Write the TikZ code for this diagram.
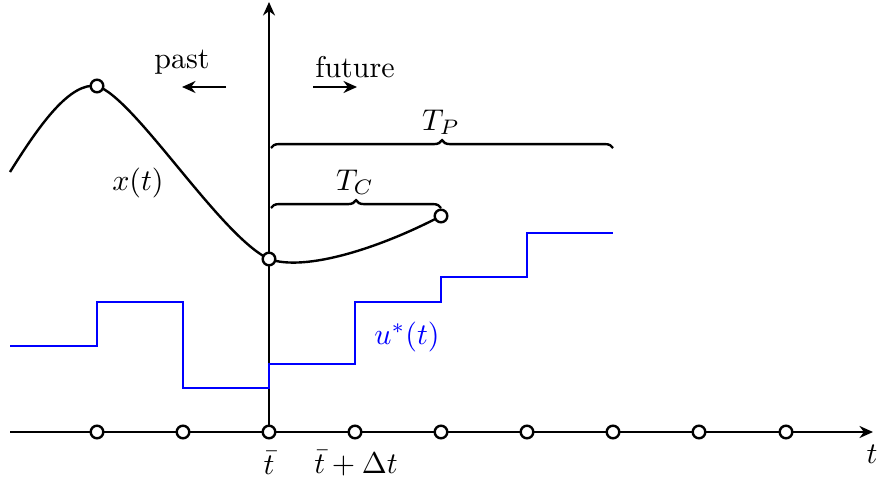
\documentclass[tikz,border=0pt]{standalone}
\usetikzlibrary{arrows.meta,decorations.pathreplacing}
\begin{document}
\begin{tikzpicture}[x=0.3333pt,y=-0.3333pt,
  dot/.style={circle,draw,thick,fill=white,inner sep=0pt,minimum size=4.2pt},
  axis/.style={thick,-{Stealth[length=4.5pt,width=4pt]}},
  small arrow/.style={thick,-{Stealth[length=4.5pt,width=4pt]}},
  brc/.style={thick,decorate,decoration={brace,amplitude=2.6pt}},
  ctrl/.style={thick,blue},
  ticklab/.style={inner sep=0.5pt}]
\useasboundingbox (0,0) rectangle (878,483);
% axes
\coordinate (hstart) at (10,432);
\coordinate (hend) at (873,432);
\coordinate (vstart) at (269,432);
\coordinate (vend) at (269,2);
\draw[axis] (hstart) -- (hend);
\draw[axis] (vstart) -- (vend);
% control signal
\draw[ctrl] (10,346) -- (97,346) -- (97,302) -- (183,302) -- (183,388) -- (269,388) -- (269,364) -- (355,364) -- (355,302) -- (441,302) -- (441,277) -- (527,277) -- (527,233) -- (613,233);
\node[blue] (ulab) at (407,337) {$u^*(t)$};
% state trajectory
\coordinate (x0) at (10,172);
\coordinate (xpk) at (97,86);
\coordinate (xnow) at (269,259);
\coordinate (xend) at (441,216);
\draw[thick] (x0) .. controls (40,124) and (70,82) .. (xpk)
  .. controls (135,98) and (220,236) .. (xnow)
  .. controls (305,272) and (380,248) .. (xend);
\node[dot] (dpk) at (xpk) {};
\node[dot] (dnow) at (xnow) {};
\node[dot] (dend) at (xend) {};
\node (xlab) at (138,183) {$x(t)$};
% braces
\coordinate (bp1) at (271,148);
\coordinate (bp2) at (613,148);
\coordinate (bc1) at (271,208);
\coordinate (bc2) at (441,208);
\draw[brc] (bp1) -- (bp2);
\draw[brc] (bc1) -- (bc2);
\node (tp) at (441,122) {$T_P$};
\node (tc) at (355,182) {$T_C$};
% past / future
\node (past) at (182,62) {past};
\node (future) at (355,67) {future};
\coordinate (pa1) at (226,87);
\coordinate (pa2) at (182,87);
\coordinate (fa1) at (313,87);
\coordinate (fa2) at (357,87);
\draw[small arrow] (pa1) -- (pa2);
\draw[small arrow] (fa1) -- (fa2);
% ticks
\foreach \i/\x in {1/97,2/183,3/269,4/355,5/441,6/527,7/613,8/699,9/786}
  \node[dot] (tick\i) at (\x,432) {};
\node[ticklab] (tbar) at (269,463) {$\bar t$};
\node[ticklab] (tbardt) at (356,463) {$\bar t+\Delta t$};
\node[ticklab] (tlab) at (872,454) {$t$};
\end{tikzpicture}
\end{document}
